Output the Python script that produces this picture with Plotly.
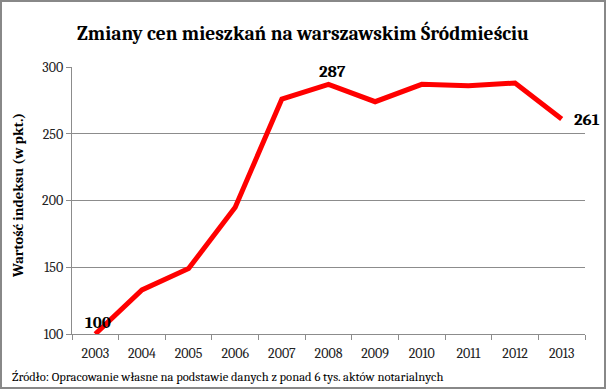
import plotly.graph_objects as go

years = ["2003", "2004", "2005", "2006", "2007", "2008", "2009", "2010", "2011", "2012", "2013"]
values = [100, 133, 149, 195, 276, 287, 274, 287, 286, 288, 261]
labeled = {"2003": "100", "2008": "287", "2013": "261"}
y_ticks = [100, 150, 200, 250, 300]

title = "Zmiany cen mieszkań na warszawskim Śródmieściu"
y_title = "Wartość indeksu (w pkt.)"
source = "Źródło: Opracowanie własne na podstawie danych z ponad 6 tys. aktów notarialnych"

SERIF = "Cambria, 'Liberation Serif', 'DejaVu Serif', serif"
L, R, T, B = 72, 21, 67, 55
PW, PH = 606 - L - R, 389 - T - B

fig = go.Figure()
fig.add_trace(go.Scatter(
    x=years, y=values, mode="lines",
    line=dict(color="#FF0000", width=5),
    hoverinfo="skip", showlegend=False,
))

label_shift = {"2003": (3, 12), "2008": (4, 13), "2013": (25, 0)}
annotations = []
for i, (yr, val) in enumerate(zip(years, values)):
    if yr in labeled:
        dx, dy = label_shift[yr]
        annotations.append(dict(x=i, y=val, xref="x", yref="y", text=f"<b>{labeled[yr]}</b>",
                                showarrow=False, xshift=dx, yshift=dy,
                                font=dict(family=SERIF, size=17, color="black")))

annotations.append(dict(text=source, xref="paper", yref="paper", x=(10 - L) / PW, xanchor="left",
                        y=-(377 - (T + PH)) / PH, yanchor="middle", showarrow=False,
                        font=dict(family=SERIF, size=12.6, color="black")))
annotations.append(dict(text=f"<b>{y_title}</b>", xref="paper", yref="paper", x=(18 - L) / PW,
                        xanchor="center", y=((T + PH) - 196) / PH, yanchor="middle", textangle=-90,
                        showarrow=False, font=dict(family=SERIF, size=14.5, color="black")))

fig.update_layout(
    width=606, height=389,
    margin=dict(l=L, r=R, t=T, b=B),
    paper_bgcolor="white", plot_bgcolor="white",
    title=dict(text=f"<b>{title}</b>", x=0.5, xanchor="center", y=0.916, yanchor="middle",
               font=dict(family=SERIF, size=19.5, color="black")),
    xaxis=dict(type="category", showgrid=False, showline=True, linecolor="#8c8c8c", linewidth=1,
               ticks="outside", tickson="boundaries", ticklen=5, tickcolor="#8c8c8c",
               ticklabelstandoff=6,
               tickfont=dict(family=SERIF, size=14, color="#222"), range=[-0.5, 10.5], fixedrange=True),
    yaxis=dict(range=[100, 300], tickvals=y_ticks, showgrid=True, gridcolor="#8c8c8c", gridwidth=1,
               showline=True, linecolor="#8c8c8c", linewidth=1, ticks="outside", ticklen=5,
               tickcolor="#8c8c8c", tickfont=dict(family=SERIF, size=14, color="#222"),
               zeroline=False, fixedrange=True),
    annotations=annotations,
    shapes=[dict(type="rect", xref="paper", yref="paper", x0=-(L - 1) / PW, x1=1 + (R - 1) / PW,
                 y0=-(B - 1) / PH, y1=1 + (T - 1) / PH, line=dict(color="#888888", width=2))],
)

fig.write_html("out.html", config={"displayModeBar": False},
               post_script="document.body.style.margin='0';document.body.style.overflow='hidden';")
